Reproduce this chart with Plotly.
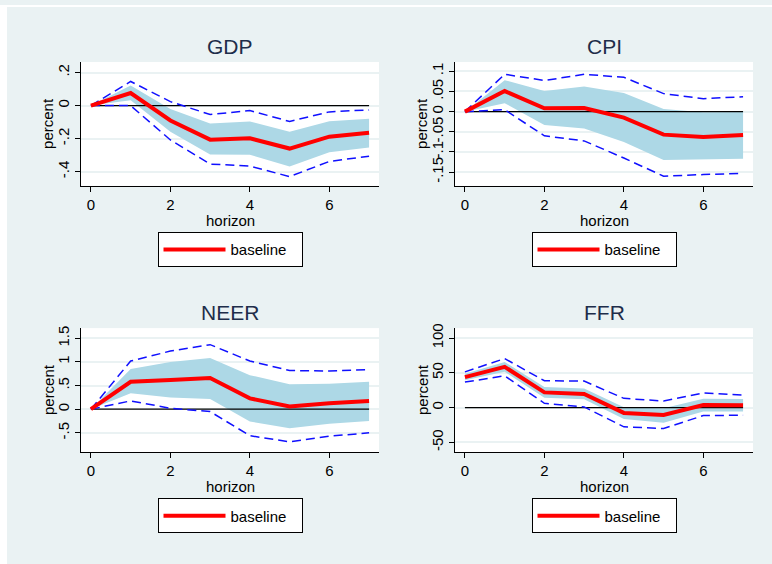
import plotly.graph_objects as go

W, H = 772, 564
horizon = [0, 1, 2, 3, 4, 5, 6, 7]

gdp_irf = [0, 0.076, -0.09, -0.206, -0.198, -0.26, -0.188, -0.164]
gdp_band_hi = [0, 0.122, -0.02, -0.108, -0.096, -0.158, -0.094, -0.08]
gdp_band_lo = [0, 0.032, -0.158, -0.296, -0.298, -0.368, -0.282, -0.254]
gdp_ci_hi = [0, 0.146, 0.024, -0.054, -0.03, -0.096, -0.038, -0.026]
gdp_ci_lo = [0, 0.0, -0.208, -0.354, -0.366, -0.43, -0.338, -0.306]

cpi_irf = [0, 0.051, 0.0084, 0.009, -0.015, -0.057, -0.0626, -0.058]
cpi_band_hi = [0, 0.078, 0.051, 0.062, 0.046, 0.0067, -0.0015, -0.001]
cpi_band_lo = [0, 0.021, -0.033, -0.042, -0.075, -0.12, -0.119, -0.117]
cpi_ci_hi = [0, 0.0926, 0.077, 0.0926, 0.085, 0.0446, 0.032, 0.037]
cpi_ci_lo = [0, 0.005, -0.060, -0.0725, -0.115, -0.16, -0.156, -0.153]

neer_irf = [0, 0.58, 0.617, 0.66, 0.23, 0.057, 0.126, 0.176]
neer_band_hi = [0, 0.85, 1.0, 1.085, 0.72, 0.53, 0.54, 0.58]
neer_band_lo = [0, 0.336, 0.246, 0.218, -0.26, -0.405, -0.307, -0.25]
neer_ci_hi = [0, 1.02, 1.23, 1.366, 1.02, 0.82, 0.806, 0.84]
neer_ci_lo = [0, 0.176, 0.02, -0.05, -0.56, -0.69, -0.57, -0.5]

ffr_irf = [43.8, 58.6, 21.9, 19.5, -7.6, -10.5, 3.8, 3.3]
ffr_band_hi = [48.6, 65.7, 29.5, 27.6, 0.5, -1.0, 12.9, 12.4]
ffr_band_lo = [39.5, 51.4, 14.3, 11.9, -16.2, -21.9, -5.7, -5.7]
ffr_ci_hi = [51.4, 70.5, 38.6, 38.1, 13.3, 9.5, 21.0, 18.1]
ffr_ci_lo = [36.7, 45.7, 6.2, 1.0, -27.6, -30.0, -11.4, -11.0]

titles = ["GDP", "CPI", "NEER", "FFR"]
x_ticks = [0, 2, 4, 6]
gdp_ticks = [-0.4, -0.2, 0, 0.2]
gdp_labels = ["-.4", "-.2", "0", ".2"]
cpi_ticks = [-0.15, -0.1, -0.05, 0, 0.05, 0.1]
cpi_labels = ["-.15", "-.1", "-.05", "0", ".05", ".1"]
neer_ticks = [-0.5, 0, 0.5, 1, 1.5]
neer_labels = ["-.5", "0", ".5", "1", "1.5"]
ffr_ticks = [-50, 0, 50, 100]
ffr_labels = ["-50", "0", "50", "100"]

panels = [
    dict(irf=gdp_irf, bh=gdp_band_hi, bl=gdp_band_lo, ch=gdp_ci_hi, cl=gdp_ci_lo,
         tv=gdp_ticks, tt=gdp_labels, yr=[-0.486, 0.264]),
    dict(irf=cpi_irf, bh=cpi_band_hi, bl=cpi_band_lo, ch=cpi_ci_hi, cl=cpi_ci_lo,
         tv=cpi_ticks, tt=cpi_labels, yr=[-0.184, 0.123]),
    dict(irf=neer_irf, bh=neer_band_hi, bl=neer_band_lo, ch=neer_ci_hi, cl=neer_ci_lo,
         tv=neer_ticks, tt=neer_labels, yr=[-0.905, 1.716]),
    dict(irf=ffr_irf, bh=ffr_band_hi, bl=ffr_band_lo, ch=ffr_ci_hi, cl=ffr_ci_lo,
         tv=ffr_ticks, tt=ffr_labels, yr=[-63.8, 114.3]),
]

# pixel layout (left, right, top, bottom) of each plot area
boxes = [(81, 379, 57.5, 182.5), (455, 753, 57.5, 182.5),
         (81, 379, 326, 451), (455, 753, 326, 451)]

FONT = "Liberation Sans, Arial, sans-serif"
BG = "#EAF2F3"
px = lambda x: x / W
py = lambda y: 1 - y / H

fig = go.Figure()
annotations = []
layout = {}
for i, (p, box, title) in enumerate(zip(panels, boxes, titles)):
    n = "" if i == 0 else str(i + 1)
    xa, ya = "x" + n, "y" + n
    fig.add_trace(go.Scatter(x=horizon + horizon[::-1], y=p["bh"] + p["bl"][::-1],
                             fill="toself", fillcolor="#ADD8E6", line=dict(width=0),
                             mode="lines", showlegend=False, hoverinfo="skip",
                             xaxis=xa, yaxis=ya))
    fig.add_trace(go.Scatter(x=[horizon[0], horizon[-1]], y=[0, 0], mode="lines",
                             line=dict(color="black", width=1.3), showlegend=False,
                             xaxis=xa, yaxis=ya))
    for key in ("ch", "cl"):
        fig.add_trace(go.Scatter(x=horizon, y=p[key], mode="lines",
                                 line=dict(color="#1010FF", width=1.5, dash="9px,5px"),
                                 showlegend=False, xaxis=xa, yaxis=ya))
    fig.add_trace(go.Scatter(x=horizon, y=p["irf"], mode="lines", name="baseline",
                             line=dict(color="#FF0000", width=4),
                             showlegend=True, legend="legend" + n,
                             xaxis=xa, yaxis=ya))
    l, r, t, b = box
    layout["xaxis" + n] = dict(domain=[px(l), px(r)], range=[-0.25, 7.25], anchor=ya,
                               tickvals=x_ticks, showgrid=False, zeroline=False,
                               showline=True, linecolor="black", linewidth=1,
                               ticks="outside", ticklen=5, tickcolor="black",
                               tickfont=dict(size=15, color="black", family=FONT))
    layout["yaxis" + n] = dict(domain=[py(b), py(t)], range=p["yr"], anchor=xa,
                               tickvals=p["tv"], ticktext=p["tt"], tickangle=-90,
                               showgrid=True, gridcolor=BG, gridwidth=1.5,
                               zeroline=False, showline=True, linecolor="black",
                               linewidth=1, ticks="outside", ticklen=5,
                               tickcolor="black",
                               tickfont=dict(size=15, color="black", family=FONT))
    cx = (l + r) / 2
    annotations.append(dict(text=title, x=px(cx), y=py(t - 15.5), xref="paper", yref="paper",
                            showarrow=False, xanchor="center", yanchor="middle",
                            font=dict(size=21, color="#1E2D4A", family=FONT)))
    annotations.append(dict(text="horizon", x=px(cx), y=py(b + 34.5), xref="paper",
                            yref="paper", showarrow=False, xanchor="center",
                            yanchor="middle",
                            font=dict(size=15, color="black", family=FONT)))
    annotations.append(dict(text="percent", x=px(l - 33), y=py((t + b) / 2), xref="paper",
                            yref="paper", showarrow=False, xanchor="center",
                            yanchor="middle", textangle=-90,
                            font=dict(size=15, color="black", family=FONT)))
    layout["legend" + n] = dict(x=px(cx), y=py(b + 64.5), xanchor="center", yanchor="middle",
                                bgcolor="white", bordercolor="black", borderwidth=1,
                                font=dict(size=15, color="black", family=FONT),
                                itemwidth=62, orientation="h",
                                entrywidth=66, entrywidthmode="pixels")

fig.update_layout(
    width=W, height=H, autosize=False,
    margin=dict(l=0, r=0, t=0, b=0),
    paper_bgcolor=BG, plot_bgcolor="white",
    annotations=annotations,
    shapes=[dict(type="rect", xref="paper", yref="paper", x0=0, x1=px(7), y0=0, y1=1,
                 fillcolor="white", line=dict(width=0), layer="below"),
            dict(type="rect", xref="paper", yref="paper", x0=0, x1=1, y0=py(2), y1=1,
                 fillcolor="white", line=dict(width=0), layer="below")],
    **layout,
)
fig.write_html("out.html", config={"displayModeBar": False},
               post_script="document.body.style.margin='0';"
                           "document.body.style.overflow='hidden';")
